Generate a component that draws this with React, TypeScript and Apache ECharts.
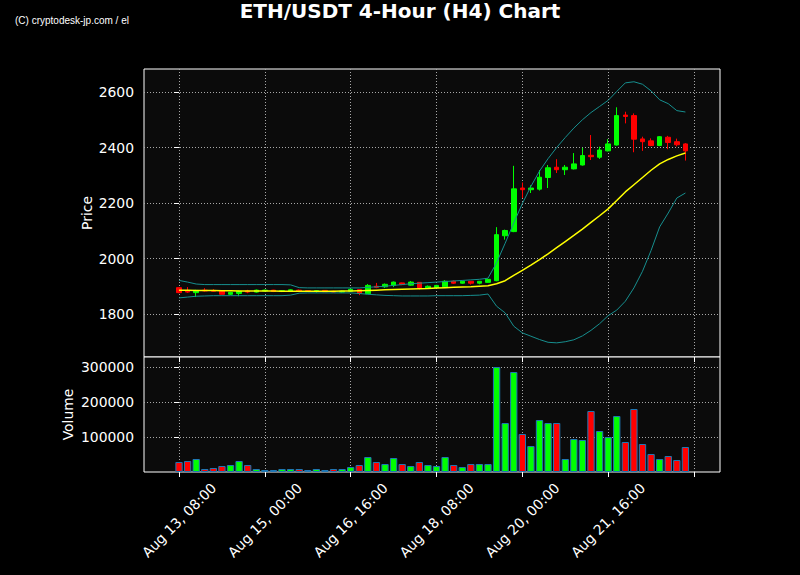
import React, { useEffect, useRef } from "react";
import * as echarts from "echarts";

// x positions are candle indexes (4-hour steps from Aug 13, 08:00)
const tickLabels = [
  "Aug 13, 08:00",
  "Aug 15, 00:00",
  "Aug 16, 16:00",
  "Aug 18, 08:00",
  "Aug 20, 00:00",
  "Aug 21, 16:00",
];
const xTickIndexes = [0, 10, 20, 30, 40, 50, 60];
const xLabelIndexes = [0, 10, 20, 30, 40, 50];
const priceTicks = [1800, 2000, 2200, 2400, 2600];
const volumeTicks = [100000, 200000, 300000];

const opens = [
  1895, 1882, 1877, 1886, 1885, 1883, 1871, 1874, 1883, 1879,
  1883, 1886, 1881, 1882, 1886, 1884, 1882, 1885, 1882, 1879,
  1882, 1888, 1873, 1900, 1898, 1903, 1912, 1904, 1914, 1893,
  1895, 1898, 1918, 1911, 1918, 1911, 1914, 1920, 2082, 2097,
  2254, 2248, 2250, 2292, 2329, 2320, 2323, 2337, 2372, 2365,
  2388, 2409, 2517, 2515, 2431, 2424, 2407, 2437, 2421, 2413,
];
const closes = [
  1877, 1879, 1885, 1883, 1882, 1871, 1878, 1882, 1879, 1886,
  1886, 1881, 1884, 1887, 1883, 1882, 1884, 1880, 1879, 1882,
  1889, 1874, 1903, 1896, 1907, 1915, 1906, 1915, 1894, 1900,
  1903, 1918, 1911, 1918, 1911, 1918, 1925, 2086, 2101, 2251,
  2248, 2254, 2293, 2327, 2320, 2329, 2341, 2371, 2367, 2391,
  2413, 2515, 2512, 2430, 2421, 2407, 2439, 2418, 2410, 2388,
];
const lows = [
  1875, 1876, 1861, 1881, 1880, 1870, 1868, 1864, 1875, 1877,
  1881, 1879, 1879, 1880, 1881, 1880, 1877, 1879, 1877, 1877,
  1880, 1868, 1872, 1893, 1894, 1897, 1904, 1902, 1888, 1891,
  1893, 1897, 1908, 1909, 1906, 1907, 1913, 1918, 2068, 2095,
  2218, 2236, 2245, 2254, 2308, 2301, 2321, 2335, 2355, 2359,
  2386, 2407, 2487, 2383, 2388, 2405, 2405, 2394, 2404, 2353,
];
const highs = [
  1896, 1897, 1887, 1893, 1889, 1884, 1880, 1884, 1887, 1888,
  1888, 1887, 1886, 1889, 1888, 1886, 1886, 1886, 1884, 1884,
  1891, 1889, 1908, 1912, 1910, 1917, 1913, 1919, 1915, 1903,
  1905, 1922, 1921, 1920, 1919, 1919, 1927, 2113, 2104, 2334,
  2274, 2264, 2319, 2337, 2358, 2337, 2380, 2399, 2445, 2403,
  2430, 2545, 2529, 2523, 2439, 2433, 2441, 2442, 2432, 2416,
];
const volumes = [
  28600, 31400, 37100, 8600, 11400, 17100, 20000, 31400, 20000, 8600,
  5700, 5700, 8600, 8600, 8600, 5700, 8600, 5700, 8600, 8600,
  14300, 20000, 42900, 28600, 22900, 40000, 22900, 17100, 28600, 20000,
  17100, 42900, 20000, 14300, 22900, 22900, 22900, 300000, 140000, 285700,
  108600, 74300, 148600, 140000, 140000, 37100, 94300, 91400, 174300, 117100,
  100000, 160000, 85700, 180000, 80000, 51400, 37100, 45700, 34300, 71400,
];
const sma20 = [
  1886, 1886, 1885, 1885, 1885, 1884, 1884, 1883, 1883, 1883,
  1883, 1883, 1882, 1882, 1882, 1882, 1882, 1882, 1882, 1883,
  1883, 1884, 1885, 1886, 1887, 1888, 1889, 1890, 1891, 1892,
  1894, 1895, 1896, 1897, 1898, 1900, 1902, 1909, 1920, 1939,
  1957, 1976, 1996, 2017, 2039, 2061, 2083, 2106, 2130, 2154,
  2179, 2209, 2240, 2266, 2292, 2318, 2341, 2357, 2370, 2380,
];
const upperBand = [
  1921, 1915, 1908, 1906, 1906, 1906, 1906, 1906, 1906, 1906,
  1906, 1906, 1906, 1905, 1895, 1894, 1894, 1894, 1894, 1894,
  1894, 1894, 1896, 1898, 1900, 1903, 1906, 1909, 1911, 1913,
  1915, 1917, 1919, 1921, 1923, 1925, 1929, 1985, 2055, 2128,
  2198, 2260, 2315, 2360, 2400, 2436, 2470, 2500, 2526, 2548,
  2570, 2602, 2633, 2637, 2628, 2604, 2572, 2558, 2533, 2528,
];
const lowerBand = [
  1858, 1861, 1864, 1865, 1866, 1866, 1866, 1866, 1866, 1866,
  1866, 1866, 1866, 1868, 1875, 1876, 1876, 1876, 1876, 1876,
  1876, 1874, 1871, 1869, 1867, 1866, 1865, 1865, 1865, 1865,
  1866, 1866, 1866, 1866, 1867, 1868, 1872, 1828, 1804, 1756,
  1732, 1720, 1708, 1698, 1696, 1700, 1707, 1721, 1741, 1765,
  1794, 1814, 1846, 1894, 1954, 2029, 2114, 2164, 2218, 2236,
];

const UP = "#00ff00";
const DOWN = "#ff0000";
const BAND = "#178f8f";
const FONT = "DejaVu Sans";
const X_MIN = -4.08;
const X_MAX = 63.03;

export default function App() {
  const ref = useRef<HTMLDivElement>(null);

  useEffect(() => {
    if (!ref.current) return;
    const chart = echarts.init(ref.current, undefined, { renderer: "svg" });

    const gridLine = {
      show: true,
      lineStyle: { color: "#a8a8a8", width: 1, type: [1, 2] as number[] },
    };
    const tickStyle = { color: "#ffffff", width: 1 };
    const labelStyle = { color: "#ffffff", fontSize: 13.9, fontFamily: FONT };
    const plain = (v: number) => String(v);

    const candleData = opens.map((o, i) => [i, o, closes[i], lows[i], highs[i]]);
    const volData = volumes.map((v, i) => ({
      value: [i, v],
      itemStyle: { color: closes[i] >= opens[i] ? UP : DOWN },
    }));
    const toLine = (arr: number[]) => arr.map((v, i) => [i, v]);

    const option: any = {
      animation: false,
      backgroundColor: "#000000",
      graphic: [
        {
          type: "text",
          left: 15,
          top: 15,
          style: {
            text: "(C) cryptodesk-jp.com / el",
            fill: "#ffffff",
            font: '10px "Liberation Sans", Arial, sans-serif',
          },
        },
        {
          type: "text",
          x: 400,
          y: 11,
          style: {
            text: "ETH/USDT 4-Hour (H4) Chart",
            fill: "#ffffff",
            font: 'bold 20px "DejaVu Sans", sans-serif',
            align: "center",
            verticalAlign: "middle",
          },
        },
      ],
      grid: [
        {
          left: 144,
          top: 69,
          width: 576,
          height: 288,
          show: true,
          backgroundColor: "#0b0b0b",
          borderColor: "#ffffff",
          borderWidth: 1,
        },
        {
          left: 144,
          top: 357,
          width: 576,
          height: 115,
          show: true,
          backgroundColor: "#0b0b0b",
          borderColor: "#ffffff",
          borderWidth: 1,
        },
      ],
      xAxis: [
        {
          type: "value",
          gridIndex: 0,
          min: X_MIN,
          max: X_MAX,
          axisLine: { show: false },
          axisTick: { show: true, customValues: xTickIndexes, length: 5, lineStyle: tickStyle },
          axisLabel: { show: false },
          splitLine: gridLine,
        },
        {
          type: "value",
          gridIndex: 1,
          min: X_MIN,
          max: X_MAX,
          axisLine: { show: false },
          axisTick: { show: true, customValues: xTickIndexes, length: 5, lineStyle: tickStyle },
          axisLabel: {
            show: true,
            customValues: xLabelIndexes,
            formatter: (v: number) => tickLabels[Math.round(v / 10)] ?? "",
            rotate: 45,
            align: "center",
            verticalAlign: "middle",
            margin: 48,
            ...labelStyle,
          },
          splitLine: gridLine,
        },
      ],
      yAxis: [
        {
          type: "value",
          gridIndex: 0,
          min: 1645,
          max: 2683,
          axisLine: { show: false },
          axisTick: { show: true, customValues: priceTicks, length: 5, lineStyle: tickStyle },
          axisLabel: { customValues: priceTicks, margin: 10, formatter: plain, ...labelStyle },
          splitLine: gridLine,
          name: "Price",
          nameLocation: "middle",
          nameGap: 50,
          nameMoveOverlap: false,
          nameTextStyle: { ...labelStyle },
        },
        {
          type: "value",
          gridIndex: 1,
          min: 0,
          max: 328571,
          axisLine: { show: false },
          axisTick: { show: true, customValues: volumeTicks, length: 5, lineStyle: tickStyle },
          axisLabel: { customValues: volumeTicks, margin: 10, formatter: plain, ...labelStyle },
          splitLine: gridLine,
          name: "Volume",
          nameLocation: "middle",
          nameGap: 69,
          nameMoveOverlap: false,
          nameTextStyle: { ...labelStyle },
        },
      ],
      series: [
        {
          type: "candlestick",
          xAxisIndex: 0,
          yAxisIndex: 0,
          barWidth: 5,
          data: candleData,
          itemStyle: {
            color: UP,
            color0: DOWN,
            borderColor: UP,
            borderColor0: DOWN,
            borderWidth: 1,
          },
          z: 2,
        },
        {
          type: "line",
          xAxisIndex: 0,
          yAxisIndex: 0,
          data: toLine(upperBand),
          showSymbol: false,
          lineStyle: { color: BAND, width: 1 },
          z: 3,
        },
        {
          type: "line",
          xAxisIndex: 0,
          yAxisIndex: 0,
          data: toLine(lowerBand),
          showSymbol: false,
          lineStyle: { color: BAND, width: 1 },
          z: 3,
        },
        {
          type: "line",
          xAxisIndex: 0,
          yAxisIndex: 0,
          data: toLine(sma20),
          showSymbol: false,
          lineStyle: { color: "#ffff00", width: 1.5 },
          z: 4,
        },
        {
          type: "bar",
          xAxisIndex: 1,
          yAxisIndex: 1,
          barWidth: 7.3,
          data: volData,
          itemStyle: { borderColor: "#1f77b4", borderWidth: 1 },
        },
      ],
    };

    chart.setOption(option);
    return () => chart.dispose();
  }, []);

  return (
    <div
      ref={ref}
      style={{ position: "fixed", left: 0, top: 0, width: 800, height: 575 }}
    />
  );
}
